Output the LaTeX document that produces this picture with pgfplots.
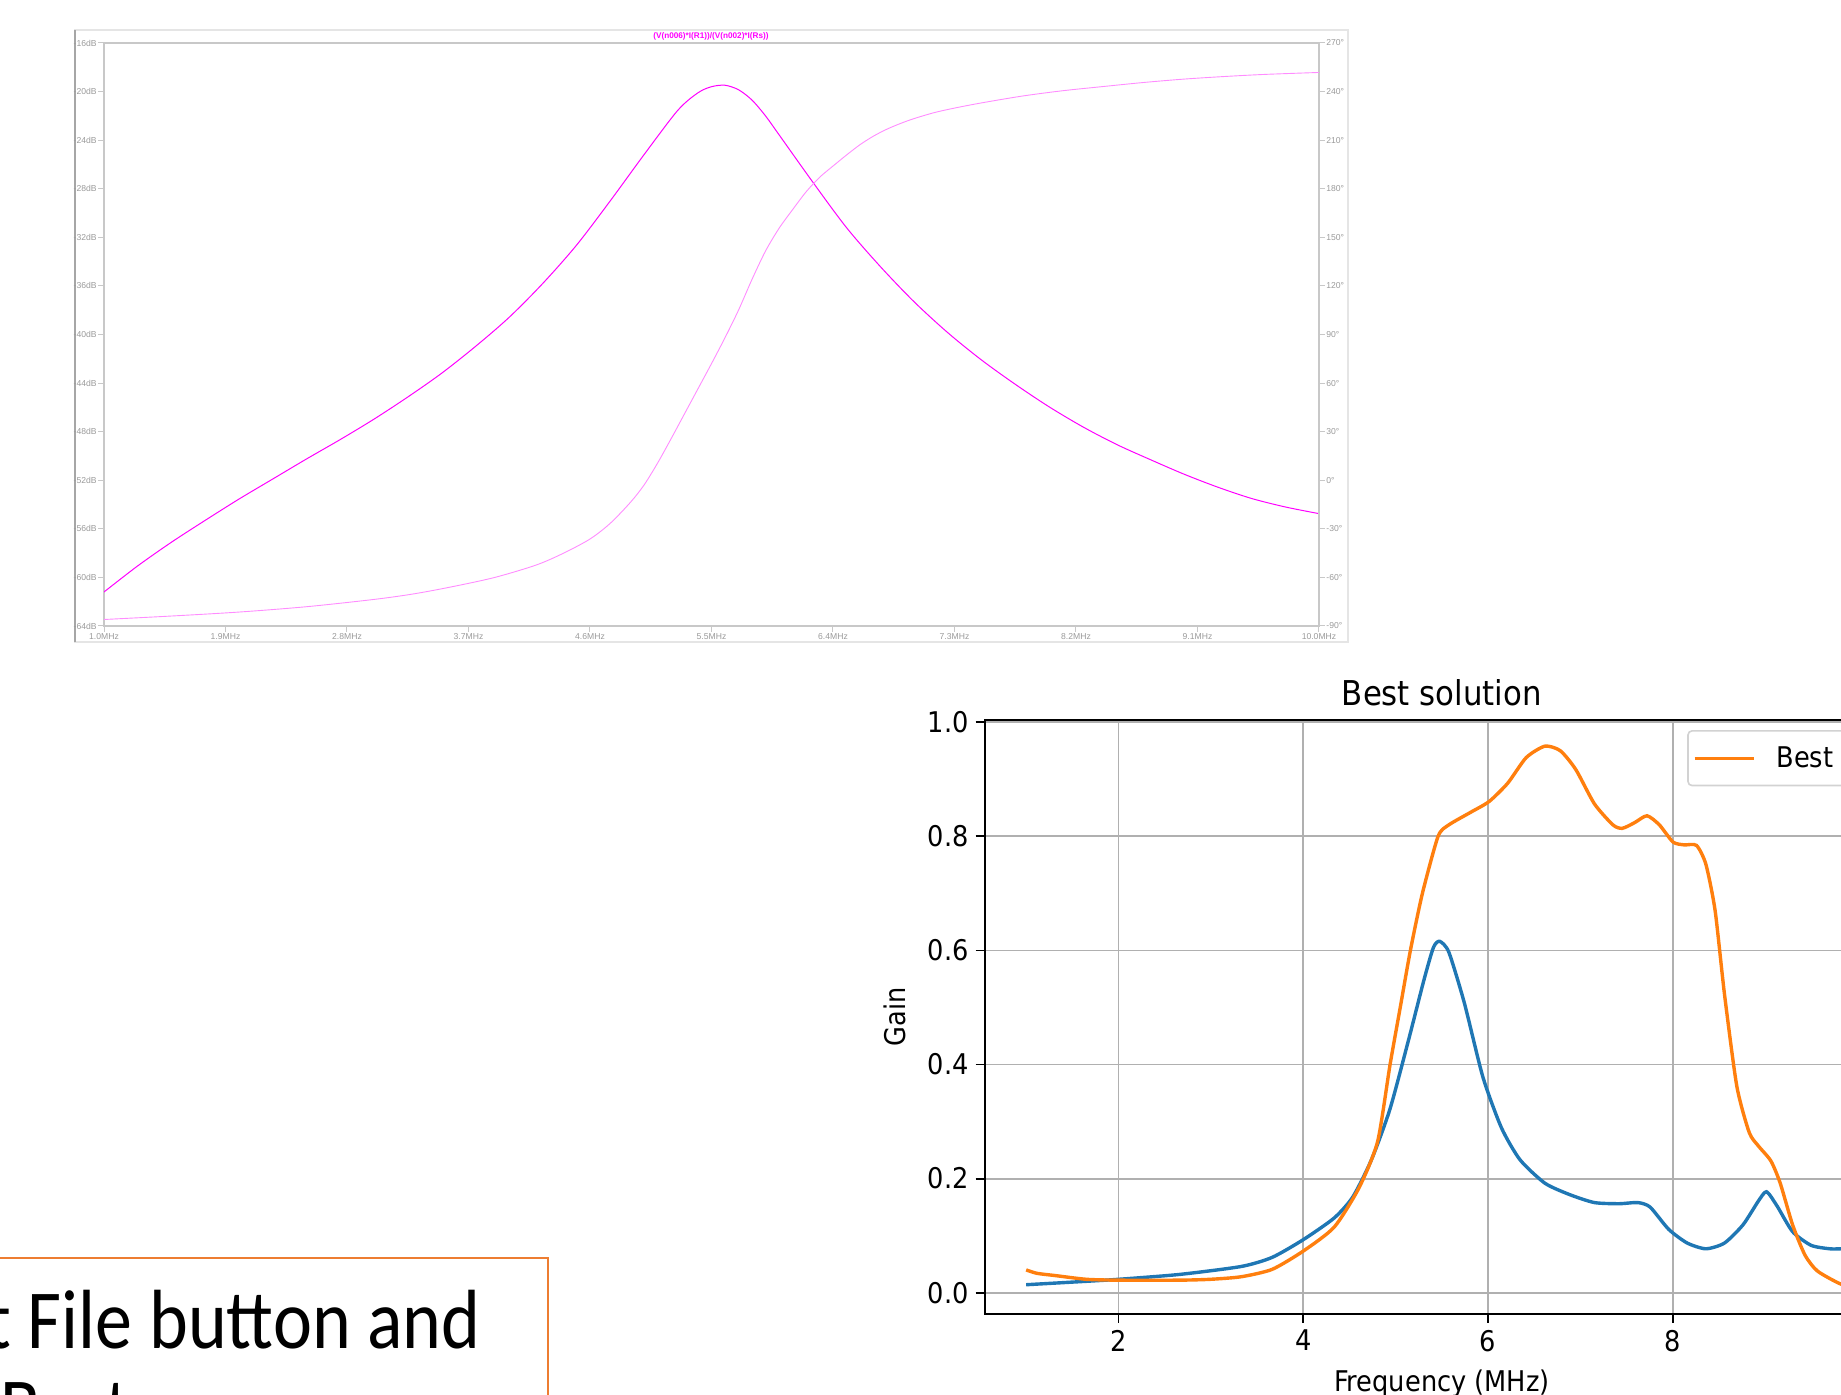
\documentclass[border=0pt]{standalone}
\usepackage{pgfplots}
\pgfplotsset{compat=1.18}
\usepackage{fontspec}
\setmainfont{DejaVu Sans}
\newfontfamily\mplfont[FakeStretch=0.9]{DejaVu Sans}
\newfontfamily\ltfont{Liberation Sans}
\newfontfamily\calfont[FakeStretch=0.88]{Carlito}
\definecolor{mplblue}{HTML}{1F77B4}
\definecolor{mplorange}{HTML}{FF7F0E}
\definecolor{mplgrid}{HTML}{B0B0B0}
\definecolor{ltgray}{HTML}{C8C8C8}
\definecolor{ltlabel}{HTML}{9A9A9A}
\definecolor{ltmag}{HTML}{FF00FF}
\definecolor{ltphase}{HTML}{FF8CFF}
\definecolor{boxorange}{HTML}{ED7D31}

\begin{document}
\begin{tikzpicture}
\path[use as bounding box] (0pt,0pt) rectangle (920.5pt,697.5pt);
\clip (0pt,0pt) rectangle (920.5pt,697.5pt);

% ---------- LTspice plot frame ----------
\draw[gray!20, line width=0.6pt] (37.5pt,376.5pt) rectangle (674pt,682.5pt);
\draw[gray!70, line width=1pt] (37.5pt,376.5pt) -- (37.5pt,682.5pt);
\node[font=\ltfont\bfseries\fontsize{4.1}{5}\selectfont, text=ltmag] at (355.5pt,679.4pt) {(V(n006)*I(R1))/(V(n002)*I(Rs))};

\begin{axis}[
  scale only axis, width=607.5pt, height=291.5pt,
  at={(52pt,384.5pt)}, anchor=south west,
  xmin=1, xmax=10, ymin=-64, ymax=-16,
  axis line style={ltgray, line width=0.7pt},
  tick style={ltgray, line width=0.5pt},
  tick align=outside, major tick length=3pt,
  xtick pos=left, ytick pos=left,
  xtick={1.0,1.9,2.8,3.7,4.6,5.5,6.4,7.3,8.2,9.1,10.0},
  xticklabels={1.0MHz,1.9MHz,2.8MHz,3.7MHz,4.6MHz,5.5MHz,6.4MHz,7.3MHz,8.2MHz,9.1MHz,10.0MHz},
  ytick={-64,-60,-56,-52,-48,-44,-40,-36,-32,-28,-24,-20,-16},
  yticklabels={-64dB,-60dB,-56dB,-52dB,-48dB,-44dB,-40dB,-36dB,-32dB,-28dB,-24dB,-20dB,-16dB},
  tick label style={font=\ltfont\fontsize{4.3}{5}\selectfont, text=ltlabel},
  xticklabel style={inner sep=0.5pt},
  yticklabel style={inner sep=0.5pt},
]
\addplot[ltmag, line width=0.5pt, smooth, tension=0.5] coordinates {
(1.0,-61.2) (1.25,-59.05) (1.5,-57.1) (1.75,-55.3) (2.0,-53.55) (2.25,-51.9)
(2.5,-50.25) (2.75,-48.65) (3.0,-46.97) (3.25,-45.15) (3.5,-43.2) (3.75,-41.0)
(4.0,-38.6) (4.25,-35.8) (4.5,-32.65) (4.75,-29.0) (5.0,-25.2) (5.25,-21.55)
(5.4,-20.1) (5.5,-19.6) (5.6,-19.48) (5.7,-19.85) (5.8,-20.7) (5.9,-22.0)
(6.0,-23.55) (6.25,-27.45) (6.5,-31.2) (6.75,-34.4) (7.0,-37.3) (7.25,-39.85)
(7.5,-42.1) (7.75,-44.1) (8.0,-45.95) (8.25,-47.6) (8.5,-49.05) (8.75,-50.3)
(9.0,-51.5) (9.25,-52.57) (9.5,-53.5) (9.75,-54.2) (10.0,-54.75)
};
\end{axis}

\begin{axis}[
  scale only axis, width=607.5pt, height=291.5pt,
  at={(52pt,384.5pt)}, anchor=south west,
  xmin=1, xmax=10, ymin=-90, ymax=270,
  hide x axis, axis y line*=right,
  axis line style={ltgray, line width=0.7pt},
  tick style={ltgray, line width=0.5pt},
  tick align=outside, major tick length=3pt,
  ytick={-90,-60,-30,0,30,60,90,120,150,180,210,240,270},
  yticklabels={-90°,-60°,-30°,0°,30°,60°,90°,120°,150°,180°,210°,240°,270°},
  tick label style={font=\ltfont\fontsize{4.3}{5}\selectfont, text=ltlabel},
  yticklabel style={inner sep=0.5pt},
]
\addplot[ltphase, line width=0.45pt, smooth, tension=0.5] coordinates {
(1.0,-86) (1.5,-83.85) (2.0,-81.4) (2.5,-78.1) (3.0,-73.6) (3.3,-70.1)
(3.6,-65.4) (3.9,-59.9) (4.2,-52.4) (4.4,-45.2) (4.6,-36.3) (4.75,-26.6)
(4.9,-13.6) (5.0,-3) (5.1,10.5) (5.2,25.5) (5.3,41) (5.4,56.5)
(5.5,72) (5.6,88) (5.7,105) (5.8,124) (5.9,141.5) (6.0,155.5)
(6.1,167) (6.2,178) (6.3,187) (6.4,194) (6.5,200.8) (6.6,207.2)
(6.7,212.5) (6.8,216.8) (6.9,220.3) (7.0,223.3) (7.15,227) (7.3,229.8)
(7.5,233) (7.8,237.2) (8.1,240.5) (8.4,243.1) (8.7,245.6) (9.0,247.7)
(9.3,249.3) (9.6,250.6) (10.0,251.8)
};
\end{axis}

% ---------- matplotlib chart ----------
\begin{axis}[
  scale only axis, width=457.2pt, height=297pt,
  at={(492.3pt,40.5pt)}, anchor=south west,
  xmin=0.55, xmax=10.45, ymin=-0.0373, ymax=1.0039,
  xtick={2,4,6,8,10}, ytick={0,0.2,0.4,0.6,0.8,1.0},
  grid=major, major grid style={mplgrid, line width=0.9pt},
  axis line style={black, line width=0.9pt},
  tick align=outside, major tick length=4.5pt,
  tick style={black, line width=0.9pt},
  xtick pos=left, ytick pos=left,
  tick label style={font=\mplfont\fontsize{14.25}{16}\selectfont},
  xticklabel style={/pgf/number format/assume math mode=true},
  yticklabel style={/pgf/number format/.cd, fixed, fixed zerofill, precision=1, assume math mode=true},
  title={Best solution},
  title style={font=\mplfont\fontsize{17.1}{20}\selectfont, at={(axis description cs:0.5,1.0455)}, anchor=center, yshift=-6pt},
  xlabel={Frequency (MHz)},
  xlabel style={font=\mplfont\fontsize{14.25}{16}\selectfont, at={(axis description cs:0.5,-0.1178)}, anchor=center},
  ylabel={Gain},
  ylabel style={font=\mplfont\fontsize{14.25}{16}\selectfont, at={(axis description cs:-0.0982,0.5)}, anchor=center},
  legend style={at={(rel axis cs:0.7684,0.983)}, anchor=north west, draw=gray!35, rounded corners=2pt,
    font=\mplfont\fontsize{14.25}{16}\selectfont, inner xsep=2.5pt, inner ysep=5.5pt, line width=0.8pt},
  legend cell align=left,
  legend image code/.code={\draw[#1, line width=1.7pt] (0pt,0pt) -- (29.5pt,0pt); \path (38pt,0pt);},
]
\addplot[mplblue, line width=1.7pt, smooth, tension=0.4, forget plot] coordinates {
(1.0,0.014) (1.652,0.020) (2.0,0.0235) (2.658,0.032) (3.329,0.046) (3.664,0.062)
(4.0,0.093) (4.335,0.131) (4.537,0.168) (4.738,0.233) (4.939,0.322) (5.140,0.443)
(5.308,0.549) (5.409,0.605) (5.476,0.616) (5.576,0.597) (5.744,0.508) (5.945,0.378)
(6.146,0.289) (6.347,0.233) (6.616,0.192) (6.884,0.172) (7.152,0.158) (7.420,0.156)
(7.622,0.158) (7.756,0.150) (7.957,0.111) (8.158,0.087) (8.359,0.077) (8.560,0.087)
(8.761,0.119) (8.929,0.161) (9.016,0.177) (9.130,0.152) (9.298,0.107) (9.499,0.083)
(9.701,0.077) (9.822,0.077) (10.0,0.078)
};
\addplot[mplorange, line width=1.7pt, smooth, tension=0.4] coordinates {
(1.0,0.040) (1.116,0.034) (1.317,0.030) (1.652,0.0235) (2.0,0.022) (2.658,0.022)
(2.994,0.0235) (3.329,0.028) (3.664,0.041) (4.0,0.073) (4.335,0.115) (4.604,0.184)
(4.805,0.265) (4.94,0.400) (5.05,0.500) (5.16,0.600) (5.29,0.700) (5.46,0.800)
(5.576,0.820) (5.811,0.842) (6.012,0.861) (6.213,0.893) (6.414,0.938) (6.616,0.958)
(6.783,0.950) (6.951,0.917) (7.152,0.857) (7.353,0.820) (7.454,0.814) (7.588,0.824)
(7.722,0.836) (7.856,0.820) (8.003,0.790) (8.124,0.785) (8.258,0.784) (8.359,0.751)
(8.459,0.670) (8.560,0.524) (8.694,0.362) (8.828,0.281) (8.929,0.257) (9.063,0.231)
(9.164,0.192) (9.298,0.119) (9.432,0.066) (9.567,0.038) (9.822,0.015) (10.0,0.010)
};
\addlegendentry{Best solution}
\end{axis}

% ---------- text box ----------
\draw[boxorange, line width=1pt] (-10pt,-10pt) rectangle (274pt,68.5pt);
\node[anchor=base east, inner sep=0pt, font=\calfont\fontsize{42}{50}\selectfont] at (240.6pt,23pt) {Select File button and};
\node[anchor=base west, inner sep=0pt, font=\calfont\fontsize{42}{50}\selectfont] at (0pt,-21pt) {Best};
\end{tikzpicture}
\end{document}
